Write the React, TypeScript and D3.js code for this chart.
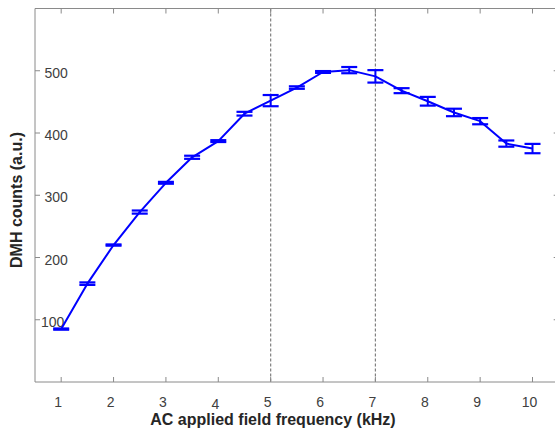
import React from "react";
import * as d3 from "d3";

const freqs = [1, 1.5, 2, 2.5, 3, 3.5, 4, 4.5, 5, 5.5, 6, 6.5, 7, 7.5, 8, 8.5, 9, 9.5, 10];
const counts = [85, 158, 220, 273, 320, 361, 387, 431, 452, 473, 498, 501, 491, 468, 451, 433, 419, 383, 375];
const errors = [1, 2, 1, 2.5, 1.5, 2.5, 1.5, 3, 9, 2, 1.5, 5, 10, 4, 7, 6, 5, 5, 7.5];
const xTicks = [1, 2, 3, 4, 5, 6, 7, 8, 9, 10];
const yTicks = [100, 200, 300, 400, 500];
const markerFreqs = [5, 7];
const xTitle = "AC applied field frequency (kHz)";
const yTitle = "DMH counts (a.u.)";

const W = 555;
const H = 435;
const left = 35;
const top = 8.5;
const bottom = 382;

export default function App() {
  const x = d3.scaleLinear().domain([0.5, 10.5]).range([left, left + 52.37 * 10]);
  const y = d3.scaleLinear().domain([0, 600]).range([bottom, top]);
  const right = x(10.5);
  const line = d3
    .line<number>()
    .x((_, i) => x(freqs[i]))
    .y((d) => y(d));
  const axisColor = "#8a8a8a";
  const blue = "#0000ff";
  const capHalf = 8;
  const tickFont = "Liberation Sans, Arial, sans-serif";
  return (
    <svg width={W} height={H} style={{ position: "absolute", left: 0, top: 0, background: "#fff" }}>
      <rect x={0} y={0} width={W} height={H} fill="#fff" />
      {markerFreqs.map((f) => (
        <line key={"m" + f} x1={x(f)} x2={x(f)} y1={top} y2={bottom} stroke="#808080" strokeWidth={1.2} strokeDasharray="3,2" />
      ))}
      <line x1={left} x2={right} y1={top} y2={top} stroke={axisColor} />
      <line x1={left} x2={right} y1={bottom} y2={bottom} stroke={axisColor} />
      <line x1={left} x2={left} y1={top} y2={bottom} stroke={axisColor} />
      <line x1={right} x2={right} y1={top} y2={bottom} stroke={axisColor} />
      {xTicks.map((t) => (
        <g key={"xt" + t}>
          <line x1={x(t)} x2={x(t)} y1={bottom} y2={bottom - 5} stroke={axisColor} />
          <line x1={x(t)} x2={x(t)} y1={top} y2={top + 5} stroke={axisColor} />
          <text
            x={x(t) - 3}
            y={t === 4 ? 409 : 407}
            textAnchor="middle"
            fontFamily={tickFont}
            fontSize={14}
            fill="#404040"
          >
            {t}
          </text>
        </g>
      ))}
      {yTicks.map((t) => (
        <g key={"yt" + t}>
          <line x1={left} x2={left + 5} y1={y(t)} y2={y(t)} stroke={axisColor} />
          <line x1={right} x2={right - 5} y1={y(t)} y2={y(t)} stroke={axisColor} />
          <text
            x={t === 100 ? left + 6 : left + 9.5}
            y={y(t) + 7}
            textAnchor="start"
            fontFamily={tickFont}
            fontSize={14}
            fill="#404040"
          >
            {t}
          </text>
        </g>
      ))}
      <path d={line(counts) || ""} fill="none" stroke={blue} strokeWidth={2} strokeLinejoin="round" />
      {counts.map((c, i) => {
        const cx = x(freqs[i]);
        const y1 = y(c + errors[i]);
        const y2 = y(c - errors[i]);
        return (
          <g key={"e" + i} stroke={blue}>
            <line x1={cx} x2={cx} y1={y1} y2={y2} strokeWidth={2} />
            <line x1={cx - capHalf} x2={cx + capHalf} y1={y1} y2={y1} strokeWidth={2.2} />
            <line x1={cx - capHalf} x2={cx + capHalf} y1={y2} y2={y2} strokeWidth={2.2} />
          </g>
        );
      })}
      <text
        x={273}
        y={425}
        textAnchor="middle"
        fontFamily={tickFont}
        fontWeight="bold"
        fontSize={16}
        fill="#262626"
      >
        {xTitle}
      </text>
      <text
        transform={`translate(22, 200) rotate(-90)`}
        textAnchor="middle"
        fontFamily={tickFont}
        fontWeight="bold"
        fontSize={16}
        fill="#262626"
      >
        {yTitle}
      </text>
    </svg>
  );
}
